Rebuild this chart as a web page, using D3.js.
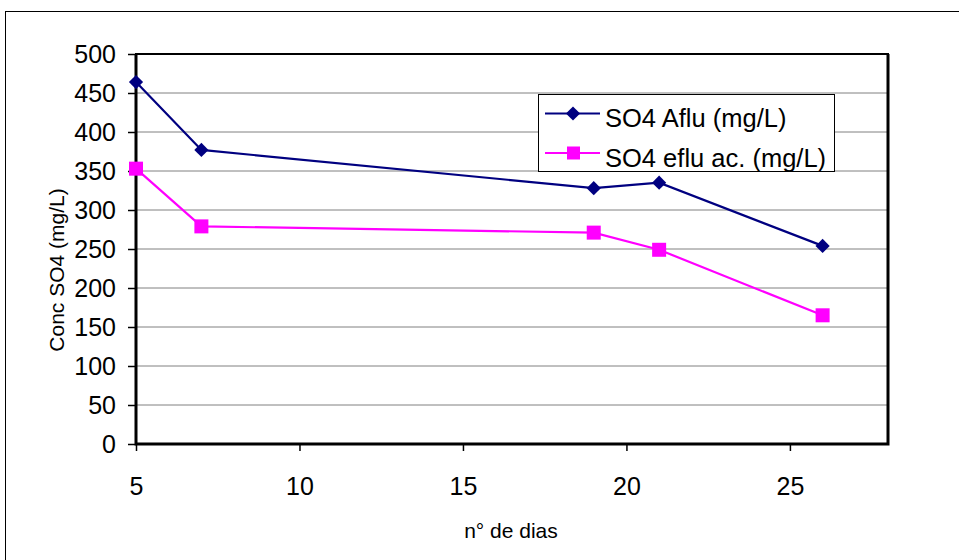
<!DOCTYPE html>
<html>
<head>
<meta charset="utf-8">
<script src="https://cdn.jsdelivr.net/npm/d3@7"></script>
<style>
  body { margin: 0; background: #fff; }
  text { font-family: "Liberation Sans", Arial, sans-serif; fill: #000; }
</style>
</head>
<body>
<svg id="chart" width="959" height="560"></svg>
<script>
const days = [5, 7, 19, 21, 26];
const afluValues = [464, 377, 328, 335, 254];
const efluValues = [353, 279, 271, 249, 165];
const seriesNames = ["SO4 Aflu (mg/L)", "SO4 eflu ac. (mg/L)"];
const xTicks = [5, 10, 15, 20, 25];
const yTicks = [0, 50, 100, 150, 200, 250, 300, 350, 400, 450, 500];

const svg = d3.select("#chart");

// outer frame
svg.append("rect")
  .attr("x", 5.5).attr("y", 11.5)
  .attr("width", 970).attr("height", 570)
  .attr("fill", "white").attr("stroke", "#000").attr("stroke-width", 1);

const plotL = 136, plotR = 888, plotT = 54, plotB = 444;

const x = d3.scaleLinear().domain([5, 28]).range([plotL, plotR]);
const y = d3.scaleLinear().domain([0, 500]).range([plotB, plotT]);

// gridlines
svg.append("g")
  .selectAll("line")
  .data(yTicks.filter(d => d > 0 && d < 500))
  .join("line")
  .attr("x1", plotL).attr("x2", plotR)
  .attr("y1", d => y(d)).attr("y2", d => y(d))
  .attr("stroke", "#808080").attr("stroke-width", 1);

// y axis
const yAxis = svg.append("g")
  .attr("transform", `translate(${plotL},0)`)
  .call(d3.axisLeft(y).tickValues(yTicks).tickSize(8).tickPadding(12));
yAxis.select(".domain").remove();
yAxis.selectAll("line").attr("stroke", "#000").attr("stroke-width", 1.5);
yAxis.selectAll("text").style("font-size", "25px").style("font-family", "Liberation Sans, Arial, sans-serif");

// x axis
const xAxis = svg.append("g")
  .attr("transform", `translate(0,${plotB})`)
  .call(d3.axisBottom(x).tickValues(xTicks).tickSize(7).tickPadding(26));
xAxis.select(".domain").remove();
xAxis.selectAll("line").attr("stroke", "#000").attr("stroke-width", 1.5);
xAxis.selectAll("text").style("font-size", "25px").style("font-family", "Liberation Sans, Arial, sans-serif");

// plot border
svg.append("rect")
  .attr("x", plotL).attr("y", plotT)
  .attr("width", plotR - plotL).attr("height", plotB - plotT)
  .attr("fill", "none").attr("stroke", "#000").attr("stroke-width", 2);
svg.append("path")
  .attr("d", `M${plotL},${plotT}V${plotB}H${plotR}V${plotT}`)
  .attr("fill", "none").attr("stroke", "#000").attr("stroke-width", 3);

// axis titles
svg.append("text")
  .attr("transform", `translate(64,270) rotate(-90)`)
  .attr("text-anchor", "middle")
  .style("font-size", "21px")
  .text("Conc SO4 (mg/L)");

svg.append("text")
  .attr("x", 511)
  .attr("y", 538)
  .attr("text-anchor", "middle")
  .style("font-size", "21px")
  .text("n° de dias");

const line = d3.line().x(d => x(d[0])).y(d => y(d[1]));
const afluPts = days.map((d, i) => [d, afluValues[i]]);
const efluPts = days.map((d, i) => [d, efluValues[i]]);

const diamond = d3.symbol().type(d3.symbolDiamond2).size(128);

svg.append("path").attr("d", line(afluPts))
  .attr("fill", "none").attr("stroke", "#000080").attr("stroke-width", 2.2);
svg.append("path").attr("d", line(efluPts))
  .attr("fill", "none").attr("stroke", "#FF00FF").attr("stroke-width", 2.2);

svg.append("g").selectAll("path")
  .data(afluPts).join("path")
  .attr("transform", d => `translate(${x(d[0])},${y(d[1])})`)
  .attr("d", diamond)
  .attr("fill", "#000080");

svg.append("g").selectAll("rect")
  .data(efluPts).join("rect")
  .attr("x", d => x(d[0]) - 7).attr("y", d => y(d[1]) - 7)
  .attr("width", 14).attr("height", 14)
  .attr("fill", "#FF00FF");

// legend
const lg = svg.append("g");
lg.append("rect")
  .attr("x", 538.5).attr("y", 94.5)
  .attr("width", 296).attr("height", 77)
  .attr("fill", "white").attr("stroke", "#000").attr("stroke-width", 1);

const legendRows = [
  { name: seriesNames[0], color: "#000080", shape: "diamond", y: 113.5, base: 127 },
  { name: seriesNames[1], color: "#FF00FF", shape: "square", y: 153, base: 167 }
];
legendRows.forEach(r => {
  lg.append("line")
    .attr("x1", 545).attr("x2", 600)
    .attr("y1", r.y).attr("y2", r.y)
    .attr("stroke", r.color).attr("stroke-width", 2);
  if (r.shape === "diamond") {
    lg.append("path")
      .attr("transform", `translate(573,${r.y})`)
      .attr("d", diamond).attr("fill", r.color);
  } else {
    lg.append("rect")
      .attr("x", 567).attr("y", r.y - 6.5)
      .attr("width", 13).attr("height", 13)
      .attr("fill", r.color);
  }
  lg.append("text")
    .attr("x", 605).attr("y", r.base)
    .style("font-size", "25.5px")
    .text(r.name);
});
</script>
</body>
</html>
